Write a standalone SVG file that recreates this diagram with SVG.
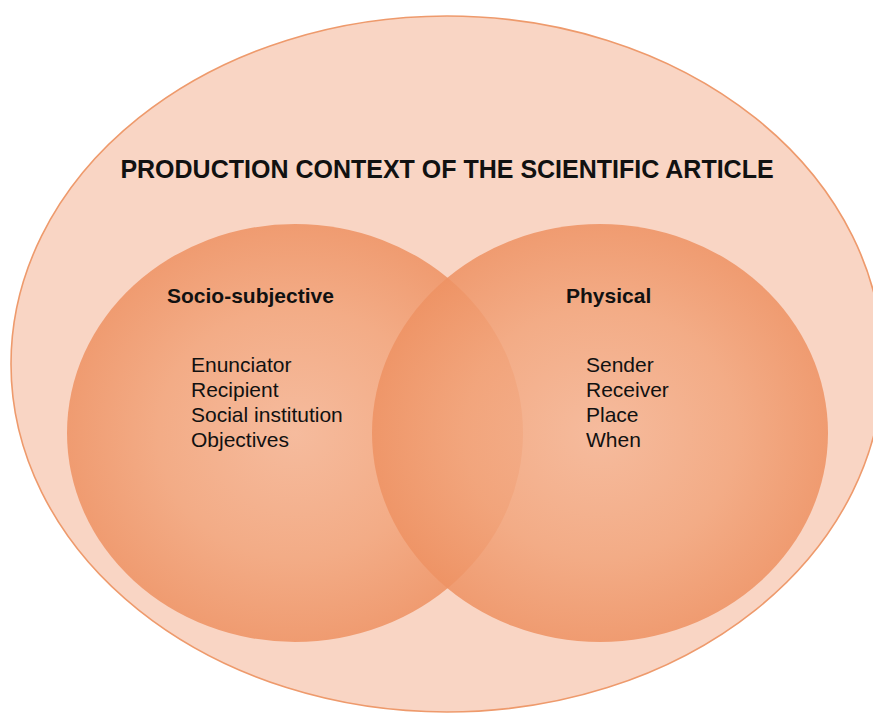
<svg xmlns="http://www.w3.org/2000/svg" width="873" height="713" viewBox="0 0 873 713">
  <defs>
    <radialGradient id="circleFill" cx="50%" cy="50%" r="50%">
      <stop offset="0" stop-color="#F5B797"/>
      <stop offset="0.6" stop-color="#F2A57C"/>
      <stop offset="1" stop-color="#EE9263"/>
    </radialGradient>
    <style>
      .context { fill: #F9D5C4; stroke: #EE9A6C; stroke-width: 1.6; }
      .set { fill: url(#circleFill); fill-opacity: 0.86; stroke: none; }
      text { font-family: "Liberation Sans", Arial, sans-serif; fill: #111111; }
      .title { font-size: 25px; font-weight: bold; text-anchor: middle; }
      .heading { font-size: 21px; font-weight: bold; }
      .item { font-size: 21px; }
    </style>
  </defs>

  <rect width="873" height="713" fill="#FFFFFF"/>

  <!-- outer context -->
  <g id="context">
    <ellipse class="context" cx="447" cy="364" rx="436" ry="348"/>
    <text class="title" x="447" y="178">PRODUCTION CONTEXT OF THE SCIENTIFIC ARTICLE</text>
  </g>

  <!-- socio-subjective set -->
  <g id="socio-subjective">
    <ellipse class="set" cx="295" cy="433" rx="228" ry="209"/>
    <text class="heading" x="167" y="303">Socio-subjective</text>
    <text class="item" x="191" y="372">Enunciator</text>
    <text class="item" x="191" y="397">Recipient</text>
    <text class="item" x="191" y="422">Social institution</text>
    <text class="item" x="191" y="447">Objectives</text>
  </g>

  <!-- physical set -->
  <g id="physical">
    <ellipse class="set" cx="600" cy="433" rx="228" ry="209"/>
    <text class="heading" x="566" y="303">Physical</text>
    <text class="item" x="586" y="372">Sender</text>
    <text class="item" x="586" y="397">Receiver</text>
    <text class="item" x="586" y="422">Place</text>
    <text class="item" x="586" y="447">When</text>
  </g>

  <g id="connectors"/>
</svg>
